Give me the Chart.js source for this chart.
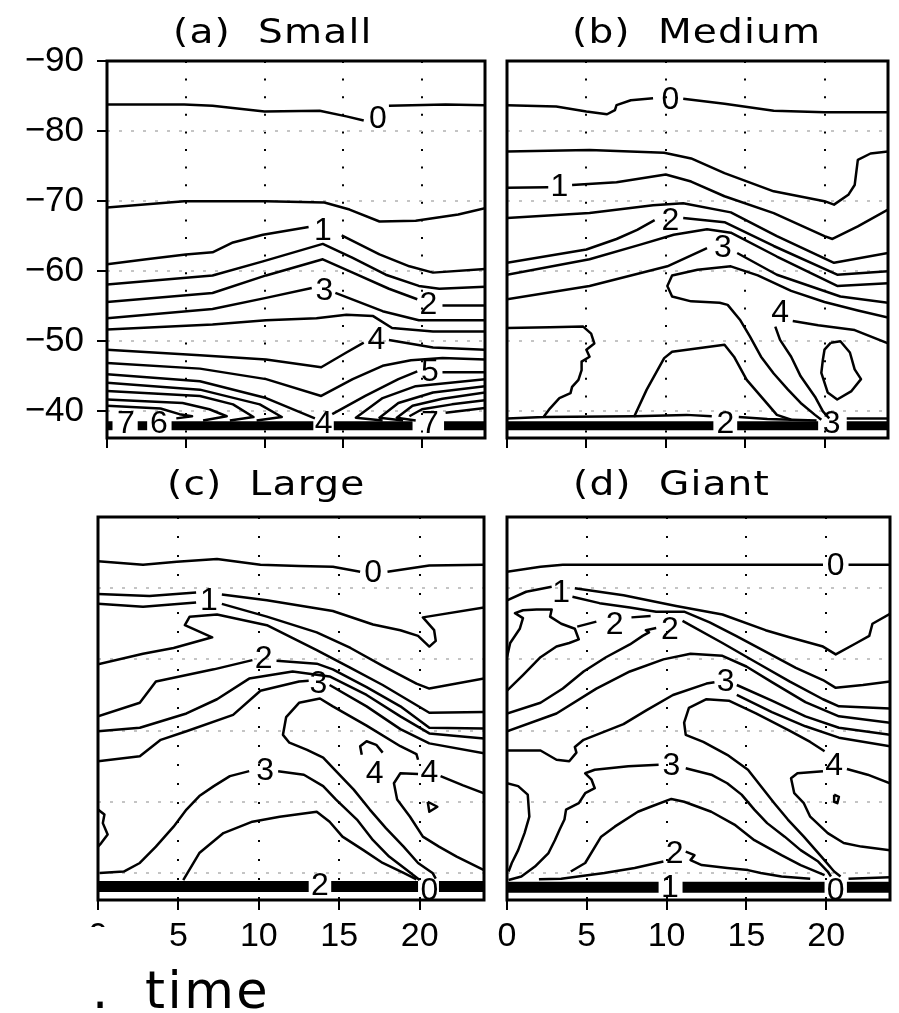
<!DOCTYPE html>
<html>
<head>
<meta charset="utf-8">
<title>Diurnal cycle by size class</title>
<script src="https://cdn.jsdelivr.net/npm/chart.js@4.4.1/dist/chart.umd.min.js"></script>
<style>
  html, body { margin: 0; padding: 0; background: #fff; }
  #wrap { position: relative; width: 899px; height: 1013px; overflow: hidden; }
  #wrap canvas { position: absolute; left: 0; top: 0; }
</style>
</head>
<body>
<div id="wrap">
  <canvas id="pa" width="899" height="1013"></canvas>
  <canvas id="pb" width="899" height="1013"></canvas>
  <canvas id="pc" width="899" height="1013"></canvas>
  <canvas id="pd" width="899" height="1013"></canvas>
</div>
<script>
// ---- axes ----
const xTickValues = [0, 5, 10, 15, 20];
const yTickValues = [-90, -80, -70, -60, -50, -40];
const timeRange = [0, 24];
const levelRange = [-90, -36.2];

// ---- (a) Small : contour segments [level, [[time, y], ...]] ----
const smallLines = [
  [0, [[0,-83.8],[4.9,-83.8],[6.7,-83.6],[10,-82.8],[13.5,-82.9],[15.2,-82.1],[16.3,-81.5]]],
  [0, [[17.9,-83.6],[21.5,-83.8],[24,-83.7]]],
  [0.5, [[0,-69.1],[4.9,-70.0],[10.1,-70.0],[13.8,-69.8],[15.4,-68.8],[17.3,-67.1],[19.6,-67.2],[22.3,-68.1],[24,-69.0]]],
  [1, [[0,-61.0],[2.5,-61.7],[5,-62.4],[6.7,-62.7],[8,-64.1],[9.9,-65.2],[12.8,-66.3]]],
  [1, [[14.9,-65.1],[17.3,-62.4],[19.2,-60.7],[20.7,-59.8],[24,-60.3]]],
  [1.5, [[0,-58.1],[6.7,-59.4],[9.9,-61.4],[13.7,-63.9],[15.6,-61.9],[17.7,-59.5],[19.8,-57.9],[21.1,-57.5],[24,-57.8]]],
  [2, [[0,-55.6],[6.7,-56.9],[10.1,-59.4],[13.7,-61.7],[15.6,-59.8],[17.9,-57.5],[19.7,-56.0]]],
  [2, [[21.3,-55.1],[24,-55.1]]],
  [3, [[0,-53.3],[6.7,-54.6],[10.1,-56.2],[13.0,-57.6]]],
  [3, [[14.5,-56.9],[17.5,-54.3],[19.8,-53.0],[24,-53.0]]],
  [3.5, [[0,-51.7],[6.7,-52.4],[10.1,-53.0],[13.3,-53.3],[15.2,-53.8],[16.9,-53.6],[18.1,-51.9],[20.7,-51.4],[24,-51.4]]],
  [4, [[0,-48.8],[5.9,-48.0],[10.1,-47.4],[13.6,-46.3],[15.2,-48.4],[16.3,-49.8]]],
  [4, [[17.9,-50.2],[20.7,-49.1],[24,-48.8]]],
  [4.5, [[0,-46.9],[5.9,-46.1],[10.1,-44.6],[13.6,-42.2],[15.6,-44.6],[17.5,-46.5],[19.3,-47.3],[21.3,-47.6],[24,-47.4]]],
  [5, [[0,-45.3],[5.9,-44.3],[10.1,-41.9],[13.2,-39.0]]],
  [5, [[14.3,-39.6],[16.4,-42.2],[18.5,-44.6],[19.7,-45.7]]],
  [5, [[21.3,-45.6],[24,-45.6]]],
  [5.5, [[0,-44.1],[5.9,-43.1],[9.7,-41.0],[11.1,-39.2],[9.5,-38.7]]],
  [6, [[0,-42.9],[5.9,-42.2],[8.0,-41.0],[9.3,-39.2],[7.8,-38.7]]],
  [6.5, [[0,-41.7],[4.8,-41.2],[6.5,-40.3],[7.6,-39.3],[6.1,-38.7]]],
  [7, [[0,-40.8],[3.4,-40.4],[4.6,-39.6],[5.4,-39.3],[4.4,-39.0]]],
  [5.5, [[17.5,-38.7],[15.8,-39.1],[17.5,-41.9],[19.6,-43.6],[24,-44.6]]],
  [6, [[18.8,-38.7],[17.3,-39.1],[18.5,-41.2],[20.7,-42.7],[24,-43.6]]],
  [6.5, [[19.6,-38.7],[18.4,-39.1],[19.4,-40.8],[21.3,-41.8],[24,-42.7]]],
  [7, [[19.2,-39.3],[20.0,-40.3],[21.9,-41.0],[24,-41.6]]],
  [7.5, [[21.5,-39.8],[24,-40.5]]]
];
const smallLabels = [[0,17.2,-81.8],[1,13.7,-65.9],[2,20.4,-55.3],[3,13.8,-57.3],[4,17.1,-50.3],[5,20.5,-45.7]];
const smallBandY = -37.95;
const smallBandSpans = [[0,0.35],[1.95,2.55],[4.1,13.1],[14.4,19.4],[21.4,24]];
const smallBandLabels = [[7,1.2,-38.3],[6,3.3,-38.3],[4,13.75,-38.3],[7,20.5,-38.3]];

// ---- (b) Medium ----
const mediumLines = [
  [0, [[0,-83.7],[3.1,-83.5],[5.0,-82.8],[6.3,-82.4],[6.8,-83.0],[6.9,-83.7],[7.8,-84.4],[9.2,-84.7]]],
  [0, [[11.1,-84.6],[13.7,-83.9],[16.8,-82.9],[20,-82.7],[24,-82.7]]],
  [0.5, [[0,-77.1],[5.2,-77.3],[9.9,-76.9],[11.6,-76.1],[13.7,-74.0],[16.8,-71.4],[20,-70.0],[20.6,-69.5],[21.5,-70.9],[21.9,-72.3],[22.1,-75.9],[22.9,-76.8],[24,-77.1]]],
  [1, [[0,-71.9],[2.6,-72.0]]],
  [1, [[4.1,-72.3],[6.9,-72.7],[10.0,-73.8],[11.6,-72.8],[13.7,-70.7],[16.8,-68.3],[20,-65.0],[20.5,-64.6],[22.1,-66.4],[24,-68.8]]],
  [1.5, [[0,-67.6],[5.2,-68.3],[9.2,-69.4],[11.1,-69.7],[14.1,-68.4],[17,-65.0],[20.6,-61.2],[24,-62.6]]],
  [2, [[0,-61.2],[5,-63.1],[6.9,-64.6],[8.2,-65.9],[9.3,-67.3]]],
  [2, [[11.1,-67.6],[13.7,-67.0],[16.8,-63.6],[20.8,-59.5],[24,-60.0]]],
  [2.5, [[0,-59.5],[5.2,-61.7],[8.4,-63.8],[10.5,-65.2],[12.6,-66.0],[14.1,-65.5],[17.0,-62.1],[20.8,-57.9],[24,-58.3]]],
  [3, [[0,-56.0],[5.2,-57.9],[10.1,-60.7],[12.6,-63.3]]],
  [3, [[14.5,-62.6],[17.0,-59.5],[21.0,-56.4],[24,-55.5]]],
  [3.5, [[24,-53.4],[22.1,-54.4],[20,-55.6],[17.9,-57.2],[15.8,-59.4],[14.1,-60.7],[12.0,-60.2],[10.4,-59.4],[10.1,-57.9],[10.4,-56.4],[11.6,-55.7],[13.4,-55.5],[13.9,-55.2],[14.7,-53.0],[15.3,-50.7],[16.0,-47.8],[16.8,-45.4],[17.7,-43.1],[18.5,-41.2],[19.4,-39.5],[19.8,-38.8]]],
  [4, [[24,-49.7],[21.9,-51.6],[19.6,-52.3],[18.0,-52.9]]],
  [4, [[16.9,-52.1],[17.2,-50.2],[17.9,-47.8],[18.5,-45.0],[19.4,-42.1],[19.9,-40.0],[20.3,-39.0]]],
  [4.5, [[20.4,-49.8],[21.0,-50.0],[21.6,-48.4],[21.9,-46.0],[22.3,-44.6],[21.7,-42.9],[20.8,-41.7],[20.2,-42.7],[19.8,-45.5],[19.9,-47.4],[20.0,-48.8],[20.4,-49.8]]],
  [2.5, [[0,-51.9],[2.7,-52.0],[4.8,-52.1],[5.3,-51.1],[5.5,-49.7],[5.0,-48.8],[5.2,-47.8],[4.7,-47.1],[4.7,-45.9],[4.5,-44.5],[4.1,-43.5],[4.0,-42.6],[3.3,-41.9],[2.7,-40.4],[2.3,-39.2],[0,-39.0]]],
  [2.5, [[8.0,-39.2],[8.8,-43.1],[9.9,-47.6],[10.4,-48.5],[13.7,-49.5],[14.3,-47.8],[15.1,-44.5],[16.2,-41.6],[17.0,-39.5],[17.9,-38.8]]],
  [2, [[2.3,-39.2],[8.0,-39.3],[11.3,-39.5],[12.9,-39.3]]],
  [2, [[14.6,-39.2],[16.4,-38.9],[19.5,-38.7]]],
  [3, [[21.4,-39.0],[24,-39.0]]]
];
const mediumLabels = [[0,10.3,-84.6],[1,3.3,-72.1],[2,10.3,-67.3],[3,13.6,-63.4],[4,17.2,-54.2]];
const mediumBandY = -37.95;
const mediumBandSpans = [[0,13.0],[14.5,19.6],[21.4,24]];
const mediumBandLabels = [[2,13.75,-38.3],[3,20.45,-38.3]];

// ---- (c) Large ----
const largeLines = [
  [0, [[0,-83.8],[2.8,-83.3],[4.9,-83.7],[7.4,-84.1],[10.1,-83.3],[12.5,-83.1],[14.6,-83.0],[16.3,-82.3]]],
  [0, [[18.0,-82.3],[20.6,-83.2],[24,-83.3]]],
  [0.5, [[0,-79.2],[3.2,-78.9],[6.1,-79.4]]],
  [0.5, [[7.7,-79.1],[10.5,-78.3],[14.6,-76.8],[17.1,-74.9],[18.8,-74.1],[19.9,-73.3],[20.6,-71.8],[21.0,-72.6],[20.9,-74.1],[20.2,-75.9],[24,-77.3]]],
  [1, [[0,-77.8],[2.8,-77.4],[6.1,-78.0]]],
  [1, [[7.7,-77.8],[10.5,-76.0],[13.6,-73.8],[15.7,-71.6],[17.7,-69.1],[19.8,-66.6],[20.6,-65.9],[24,-67.3]]],
  [1.5, [[0,-69.3],[2.8,-70.8],[4.7,-71.6],[7.1,-73.1],[5.4,-74.8],[5.7,-76.0],[7.4,-76.3],[10.5,-74.8],[13.6,-71.3],[15.7,-68.8],[17.7,-66.4],[20.6,-62.5],[24,-62.6]]],
  [2, [[0,-62.0],[2.6,-63.9],[3.6,-66.9],[7.2,-68.6],[9.6,-69.9]]],
  [2, [[11.1,-69.8],[13.6,-69.4],[14.6,-68.6],[16.7,-66.1],[18.8,-63.4],[20.6,-60.4],[24,-60.3]]],
  [2.5, [[0,-59.9],[2.6,-60.4],[5.5,-62.4],[7.4,-64.4],[9.4,-67.3],[12.1,-68.3],[14.4,-67.6],[16.7,-65.0],[18.8,-62.0],[20.6,-59.6],[24,-58.9]]],
  [3, [[0,-55.7],[2.6,-56.4],[3.9,-58.7],[5.5,-59.9],[8.4,-62.2],[10.1,-65.6],[12.5,-66.9],[13.1,-67.0]]],
  [3, [[14.4,-66.4],[16.7,-63.4],[18.8,-60.2],[20.6,-58.2],[24,-56.8]]],
  [4, [[19.9,-55.9],[19.8,-56.7],[18.8,-57.8],[16.7,-60.7],[14.6,-63.4],[13.8,-64.5],[12.5,-63.9],[11.7,-61.9],[11.5,-59.4],[11.9,-58.3],[13.0,-57.3],[14.0,-56.2],[14.8,-54.3],[15.9,-51.7],[16.9,-48.9],[17.9,-46.3],[19.0,-43.7],[19.9,-41.4],[20.8,-40.0],[21.0,-39.2]]],
  [4, [[21.3,-53.6],[22.7,-52.3],[24,-51.2]]],
  [4, [[19.9,-53.9],[18.8,-54.0],[18.4,-52.6],[18.6,-50.3],[19.4,-47.9],[20.2,-45.1],[21.2,-43.7],[22.3,-42.3],[24,-40.4]]],
  [3, [[0.1,-40.0],[1.6,-40.2],[2.6,-41.4],[3.6,-43.7],[4.7,-46.5],[5.5,-48.9],[6.3,-50.8],[7.2,-52.2],[8.2,-53.6],[9.4,-54.3]]],
  [3, [[11.2,-54.3],[12.8,-53.8],[14.0,-52.2],[14.8,-50.3],[16.1,-47.5],[17.1,-44.6],[18.1,-42.3],[19.2,-40.4],[20.0,-39.0]]],
  [2, [[5.3,-39.0],[6.3,-42.8],[7.8,-45.6],[9.6,-47.2],[11.3,-47.9],[13.6,-48.6],[14.4,-47.2],[15.2,-45.1],[16.5,-43.2],[17.7,-41.4],[19.0,-40.0],[19.8,-39.1]]],
  [2.5, [[0,-48.9],[0.4,-48.2],[0.3,-47.0],[0.6,-45.4],[0.2,-44.2],[0,-43.7]]],
  [4.5, [[16.4,-56.6],[16.3,-57.8],[16.7,-58.5],[17.3,-58.0],[17.7,-56.9]]],
  [4.5, [[20.5,-50.0],[21.1,-49.3],[20.6,-48.6],[20.5,-50.0]]]
];
const largeLabels = [[0,17.1,-82.2],[1,6.9,-78.3],[2,10.3,-70.1],[3,13.7,-66.6],[4,20.6,-54.2],[4,17.2,-54.0],[3,10.4,-54.5]];
const largeBandY = -38.1;
const largeBandSpans = [[0,13.1],[14.5,19.9],[21.2,24]];
const largeBandLabels = [[2,13.8,-38.3],[0,20.6,-37.6]];

// ---- (d) Giant ----
const giantLines = [
  [0, [[0,-82.3],[2.1,-83.0],[3.5,-83.3],[19.8,-83.3]]],
  [0, [[21.4,-83.3],[24,-83.3]]],
  [1, [[0,-78.3],[1.2,-79.5],[2.8,-80.2]]],
  [1, [[4.25,-80.0],[7.3,-79.0],[10.6,-77.5],[13.5,-76.3],[16.2,-74.1],[17.7,-73.1],[19.8,-71.8],[20.6,-70.7],[21.9,-72.3],[22.7,-73.3],[22.9,-75.0],[24,-76.4]]],
  [1.5, [[4.1,-78.8],[5.8,-77.9],[7.7,-77.3],[9.35,-76.7],[11.1,-76.7],[12.7,-75.2],[14.35,-73.3],[16.2,-71.1],[18.1,-68.8],[19.8,-67.1],[20.6,-66.0],[22.3,-66.4],[24,-66.9]]],
  [2, [[0,-70.3],[0.2,-72.3],[0.8,-74.3],[1.0,-75.8],[0.5,-76.5],[1.0,-76.9],[1.85,-77.0],[2.8,-77.0],[2.7,-76.0],[3.4,-75.0],[4.25,-74.3],[4.5,-72.8],[3.9,-72.3],[3.1,-71.8],[2.1,-70.3],[1.0,-67.8],[0,-65.6]]],
  [2, [[4.4,-74.6],[5.6,-75.3]]],
  [2, [[7.8,-75.9],[9.0,-76.1]]],
  [2, [[0,-62.4],[2.1,-63.9],[3.5,-65.9],[4.8,-68.3],[6.2,-70.3],[7.7,-72.1],[8.5,-73.3],[8.9,-73.8],[8.7,-74.1],[9.35,-74.4]]],
  [2, [[11.0,-75.4],[13.5,-72.3],[15.6,-69.6],[17.7,-66.9],[19.8,-64.4],[20.8,-63.4],[24,-63.1]]],
  [2.5, [[0,-59.9],[3.1,-62.4],[5.6,-65.9],[7.7,-68.3],[9.8,-70.0],[11.5,-70.8],[13.5,-70.5],[15.0,-69.0],[16.6,-66.8],[18.7,-64.0],[20.8,-62.0],[24,-61.1]]],
  [3, [[0,-57.2],[2.1,-57.2],[3.1,-55.9],[3.9,-55.7],[4.35,-56.9],[4.25,-57.7],[4.8,-58.7],[7.3,-60.9],[8.7,-62.8],[10.4,-65.0],[12.5,-66.6],[13.0,-66.8]]],
  [3, [[14.4,-66.4],[16.6,-64.2],[18.7,-62.0],[20.8,-60.4],[24,-59.4]]],
  [3.5, [[14.4,-65.0],[16.6,-62.6],[18.7,-60.6],[20.8,-59.0],[24,-57.8]]],
  [4, [[19.9,-57.1],[19.0,-58.4],[17.7,-60.0],[15.6,-62.4],[13.9,-64.2],[12.5,-64.4],[11.4,-63.2],[11.1,-61.1],[11.2,-59.4],[12.3,-58.4],[13.8,-56.6],[15.1,-54.5],[15.9,-52.2],[16.75,-49.8],[17.6,-47.5],[18.6,-45.1],[19.7,-42.3],[20.5,-40.2],[20.9,-39.5]]],
  [4, [[21.3,-54.6],[22.6,-53.8],[24,-52.6]]],
  [4, [[19.8,-54.3],[18.2,-54.0],[17.8,-53.3],[18.0,-51.2],[18.6,-49.8],[19.0,-47.9],[20.1,-45.6],[21.1,-44.2],[22.2,-43.7],[24,-43.2]]],
  [4.5, [[20.5,-51.0],[20.8,-50.7],[20.7,-49.8],[20.5,-50.0],[20.5,-51.0]]],
  [2.5, [[0,-52.6],[0.7,-52.2],[1.3,-51.0],[1.4,-47.9],[1.1,-45.6],[0.7,-43.2],[0.3,-41.4],[0.1,-40.2]]],
  [3, [[0.1,-39.0],[0.9,-39.5],[1.75,-40.9],[2.6,-42.8],[3.0,-44.6],[3.3,-46.1],[3.6,-47.5],[3.7,-48.9],[4.5,-49.8],[4.9,-51.2],[5.5,-51.9],[5.3,-53.1],[4.9,-54.0],[5.5,-54.5],[7.6,-55.0],[9.5,-55.2]]],
  [3, [[11.2,-54.7],[12.8,-53.8],[13.8,-52.6],[14.7,-51.0],[15.5,-48.9],[16.3,-47.0],[17.4,-45.1],[18.4,-43.2],[19.5,-41.6],[20.1,-40.2],[20.3,-39.5]]],
  [2.5, [[4.0,-40.2],[4.9,-41.4],[5.9,-45.1],[6.75,-46.5],[8.2,-48.6],[9.0,-49.3],[10.3,-50.4],[11.1,-50.0],[12.8,-48.6],[14.25,-46.8],[15.5,-44.6],[17.2,-42.5],[18.4,-41.1],[19.9,-39.7]]],
  [2, [[2.0,-39.1],[3.4,-39.2],[6.1,-40.0],[8.0,-40.7],[9.8,-41.6]]],
  [2, [[11.2,-43.0],[11.75,-42.5],[11.5,-41.8],[12.2,-41.1],[13.8,-40.7],[15.1,-40.4],[15.9,-40.0],[17.2,-39.5],[19.0,-39.2]]],
  [1, [[21.4,-39.2],[24,-39.4]]]
];
const giantLabels = [[0,20.6,-83.3],[1,3.4,-79.4],[2,6.75,-75.0],[2,10.2,-74.3],[3,13.7,-66.9],[4,20.5,-55.2],[3,10.3,-55.2],[2,10.5,-42.8]];
const giantBandY = -38.0;
const giantBandSpans = [[0,9.5],[11.0,19.9],[21.3,24]];
const giantBandLabels = [[1,10.2,-38.0],[0,20.6,-37.6]];

// ---- page layout and styling ----
const PAGE_W = 899, PAGE_H = 1013;
const TICK_FONT = '"Liberation Sans", Arial, sans-serif';
const TITLE_FONT = '"DejaVu Sans", sans-serif';

const panels = [
  { canvas: 'pa', title: '(a)  Small', titleX: 173, titleY: 43,
    lines: smallLines, labels: smallLabels, bandY: smallBandY, bandSpans: smallBandSpans, bandLabels: smallBandLabels,
    area: { l: 107, t: 61, r: 485, b: 438 }, yAxisW: 107, xAxisH: 40, showY: true, showX: false, bandWidth: 9, dotGap: 15.6 },
  { canvas: 'pb', title: '(b)  Medium', titleX: 572, titleY: 43,
    lines: mediumLines, labels: mediumLabels, bandY: mediumBandY, bandSpans: mediumBandSpans, bandLabels: mediumBandLabels,
    area: { l: 507, t: 61, r: 888, b: 438 }, yAxisW: 0, xAxisH: 40, showY: false, showX: false, bandWidth: 9, dotGap: 15.6 },
  { canvas: 'pc', title: '(c)  Large', titleX: 167, titleY: 495,
    lines: largeLines, labels: largeLabels, bandY: largeBandY, bandSpans: largeBandSpans, bandLabels: largeBandLabels,
    area: { l: 98, t: 517, r: 484, b: 900 }, yAxisW: 0, xAxisH: 60, showY: false, showX: true, hideZero: true, axisTitle: true, bandWidth: 11, dotGap: 17 },
  { canvas: 'pd', title: '(d)  Giant', titleX: 573, titleY: 495,
    lines: giantLines, labels: giantLabels, bandY: giantBandY, bandSpans: giantBandSpans, bandLabels: giantBandLabels,
    area: { l: 507, t: 517, r: 890, b: 900 }, yAxisW: 0, xAxisH: 60, showY: false, showX: true, bandWidth: 11, dotGap: 17 }
];

function decorPlugin(p) {
  return {
    id: 'decor',
    afterDatasetsDraw(chart) {
      const ctx = chart.ctx;
      const xs = chart.scales.x, ys = chart.scales.y;
      const a = chart.chartArea;
      ctx.save();
      ctx.fillStyle = '#000';
      // contour labels
      ctx.font = '32px ' + TICK_FONT;
      ctx.textAlign = 'center';
      ctx.textBaseline = 'middle';
      p.labels.concat(p.bandLabels).forEach(([lv, x, y]) => {
        ctx.fillText(String(lv), xs.getPixelForValue(x), ys.getPixelForValue(y) + 1);
      });
      // frame
      ctx.strokeStyle = '#000';
      ctx.lineWidth = 3;
      ctx.strokeRect(a.left, a.top, a.right - a.left, a.bottom - a.top);
      // panel title (wide lettering)
      ctx.save();
      ctx.translate(p.titleX, p.titleY);
      ctx.scale(1.15, 1);
      ctx.font = '34px ' + TITLE_FONT;
      ctx.textAlign = 'left';
      ctx.textBaseline = 'alphabetic';
      ctx.letterSpacing = '1px';
      ctx.fillText(p.title, 0, 0);
      ctx.restore();
      if (p.hideZero) {
        // first time tick label, partly hidden below the axis
        ctx.save();
        ctx.beginPath();
        ctx.rect(a.left - 20, a.bottom + 15, 40, 12);
        ctx.clip();
        ctx.font = '34px ' + TICK_FONT;
        ctx.textAlign = 'center';
        ctx.textBaseline = 'middle';
        ctx.fillText('0', xs.getPixelForValue(0), a.bottom + 10 + 6 + 20.4);
        ctx.restore();
      }
      if (p.axisTitle) {
        ctx.font = '51px ' + TITLE_FONT;
        ctx.textAlign = 'left';
        ctx.textBaseline = 'alphabetic';
        ctx.fillText('.', 92, 1008);
        ctx.letterSpacing = '2.5px';
        ctx.fillText('time', 145, 1008);
        ctx.letterSpacing = '0px';
      }
      ctx.restore();
    }
  };
}

function buildPanel(p) {
  const datasets = [];
  p.lines.forEach(([level, pts]) => {
    datasets.push({
      label: 'level ' + level,
      data: pts.map(([x, y]) => ({ x, y })),
      showLine: true, borderColor: '#000', borderWidth: 2.5, pointRadius: 0,
      tension: 0, fill: false, borderJoinStyle: 'round'
    });
  });
  p.bandSpans.forEach(([x0, x1]) => {
    datasets.push({
      label: 'band',
      data: [{ x: x0, y: p.bandY }, { x: x1, y: p.bandY }],
      showLine: true, borderColor: '#000', borderWidth: p.bandWidth, borderCapStyle: 'butt',
      pointRadius: 0, fill: false
    });
  });

  const pad = {
    left: p.area.l - p.yAxisW,
    right: PAGE_W - p.area.r,
    top: p.area.t,
    bottom: PAGE_H - p.area.b - p.xAxisH
  };

  return new Chart(document.getElementById(p.canvas), {
    type: 'scatter',
    data: { datasets },
    options: {
      responsive: false,
      devicePixelRatio: 1,
      animation: false,
      events: [],
      layout: { padding: pad },
      plugins: { legend: { display: false }, tooltip: { enabled: false }, title: { display: false } },
      scales: {
        x: {
          type: 'linear', position: 'bottom', min: timeRange[0], max: timeRange[1],
          afterBuildTicks: s => { s.ticks = xTickValues.map(v => ({ value: v })); },
          afterFit: s => { s.height = p.xAxisH; },
          border: { display: false, dash: [2, p.dotGap], dashOffset: 0 },
          grid: { color: '#000', lineWidth: 2, borderDash: [2, p.dotGap], drawTicks: true, tickLength: 10,
                  tickColor: '#000', tickWidth: 2, tickBorderDash: [] },
          ticks: { display: p.showX, padding: 6, color: '#000', maxRotation: 0, autoSkip: false,
                   font: { family: TICK_FONT, size: 34 },
                   callback: v => (p.hideZero && v === 0) ? '' : String(v) }
        },
        y: {
          type: 'linear', position: 'left', min: levelRange[0], max: levelRange[1], reverse: true,
          afterBuildTicks: s => { s.ticks = yTickValues.map(v => ({ value: v })); },
          afterFit: s => { s.width = p.yAxisW; },
          border: { display: false, dash: [3, 9], dashOffset: 0 },
          grid: { color: '#c4c4c4', lineWidth: 2, borderDash: [3, 9], drawTicks: p.showY, tickLength: 10,
                  tickColor: '#000', tickWidth: 2, tickBorderDash: [] },
          ticks: { display: p.showY, padding: 13, color: '#000',
                   font: { family: TICK_FONT, size: 35 },
                   callback: v => (v < 0 ? '\u2212' : '') + Math.abs(v) }
        }
      }
    },
    plugins: [decorPlugin(p)]
  });
}

panels.forEach(buildPanel);
</script>
</body>
</html>
